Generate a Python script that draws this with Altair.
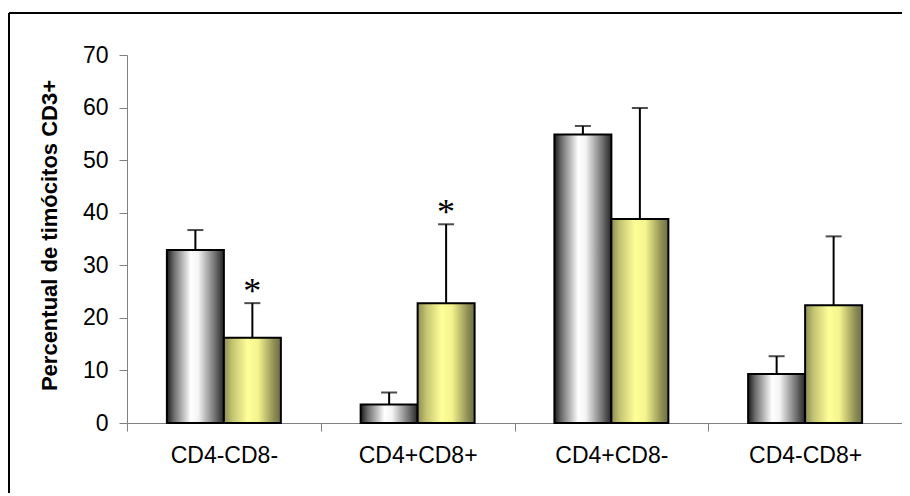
import altair as alt
import pandas as pd

categories = ["CD4-CD8-", "CD4+CD8+", "CD4+CD8-", "CD4-CD8+"]
series = ["Grupo 1", "Grupo 2"]
grey_vals = [32.9, 3.5, 54.9, 9.3]
grey_err = [3.8, 2.3, 1.6, 3.4]
yellow_vals = [16.2, 22.8, 38.8, 22.4]
yellow_err = [6.6, 15.0, 21.1, 13.1]
yellow_stars = ["*", "*", "", ""]

rows = []
for i, c in enumerate(categories):
    rows.append(dict(cat=c, serie=series[0], valor=grey_vals[i],
                     sup=grey_vals[i] + grey_err[i], star=""))
    rows.append(dict(cat=c, serie=series[1], valor=yellow_vals[i],
                     sup=yellow_vals[i] + yellow_err[i], star=yellow_stars[i]))
df = pd.DataFrame(rows)

W, H = 775, 368

grad_grey = {
    "gradient": "linear", "x1": 0, "x2": 1, "y1": 0, "y2": 0,
    "stops": [
        {"offset": 0.0, "color": "#1a1a1a"},
        {"offset": 0.12, "color": "#6a6a6a"},
        {"offset": 0.42, "color": "#ffffff"},
        {"offset": 0.55, "color": "#f4f4f4"},
        {"offset": 0.85, "color": "#6e6e6e"},
        {"offset": 1.0, "color": "#262626"},
    ],
}
grad_yellow = {
    "gradient": "linear", "x1": 0, "x2": 1, "y1": 0, "y2": 0,
    "stops": [
        {"offset": 0.0, "color": "#8c8c55"},
        {"offset": 0.15, "color": "#c4c472"},
        {"offset": 0.42, "color": "#ffff99"},
        {"offset": 0.6, "color": "#f4f48e"},
        {"offset": 0.88, "color": "#8e8e55"},
        {"offset": 1.0, "color": "#6e6e44"},
    ],
}

x_enc = alt.X(
    "cat:N", sort=categories,
    scale=alt.Scale(domain=categories, paddingInner=0, paddingOuter=0),
    axis=alt.Axis(title=None, tickBand="extent", labelAngle=0, labelFontSize=23,
                  labelFont="Liberation Sans", labelColor="black", labelPadding=13,
                  tickSize=8, tickColor="#808080", domainColor="#808080",
                  domainWidth=1, tickWidth=1),
)
xo_enc = alt.XOffset("serie:N", sort=series,
                     scale=alt.Scale(domain=series, paddingOuter=0.7, paddingInner=0))
y_enc = alt.Y(
    "valor:Q", scale=alt.Scale(domain=[0, 70], nice=False),
    axis=alt.Axis(values=list(range(0, 71, 10)), title="Percentual de timócitos CD3+",
                  titleFont="Liberation Sans", titleFontSize=22, titleFontWeight="bold",
                  titleColor="black", titleX=-78, titleY=180, titleBaseline="middle",
                  titleAlign="center",
                  labelFont="Liberation Sans", labelFontSize=23, labelColor="black",
                  labelPadding=11, tickSize=8, tickColor="#808080", domainColor="#808080",
                  domainWidth=1, tickWidth=1, grid=False),
)

base = alt.Chart(df)

bars_g = base.transform_filter(alt.datum.serie == series[0]).mark_bar(
    fill=grad_grey, stroke="black", strokeWidth=2
).encode(x=x_enc, xOffset=xo_enc, y=y_enc)

bars_y = base.transform_filter(alt.datum.serie == series[1]).mark_bar(
    fill=grad_yellow, stroke="black", strokeWidth=2
).encode(x=x_enc, xOffset=xo_enc, y=y_enc)

err = base.mark_rule(color="black", strokeWidth=2).encode(
    x=x_enc, xOffset=xo_enc, y=alt.Y("valor:Q"), y2="sup:Q"
)
caps = base.mark_tick(color="black", thickness=2, size=16).encode(
    x=x_enc, xOffset=xo_enc, y=alt.Y("sup:Q")
)
star_txt = base.transform_filter(alt.datum.star != "").mark_text(
    font="Liberation Serif", fontSize=36, baseline="alphabetic", dy=0, color="black"
).encode(x=x_enc, xOffset=xo_enc, y=alt.Y("sup:Q"), text="star:N")

frame_df = pd.DataFrame({"k": [0]})
frame_left = alt.Chart(frame_df).mark_rule(color="black", strokeWidth=2).encode(
    x=alt.value(-118), y=alt.value(-42), y2=alt.value(H + 70)
)
frame_top = alt.Chart(frame_df).mark_rule(color="black", strokeWidth=2).encode(
    x=alt.value(-118), x2=alt.value(W), y=alt.value(-42)
)

chart = alt.layer(bars_g, bars_y, err, caps, star_txt, frame_left, frame_top).properties(
    width=W, height=H,
    autosize="none",
    padding={"left": 119, "top": 47, "right": 0, "bottom": 70},
).configure_view(strokeWidth=0)

chart.save("out.html", embed_options={"renderer": "svg", "actions": False})
